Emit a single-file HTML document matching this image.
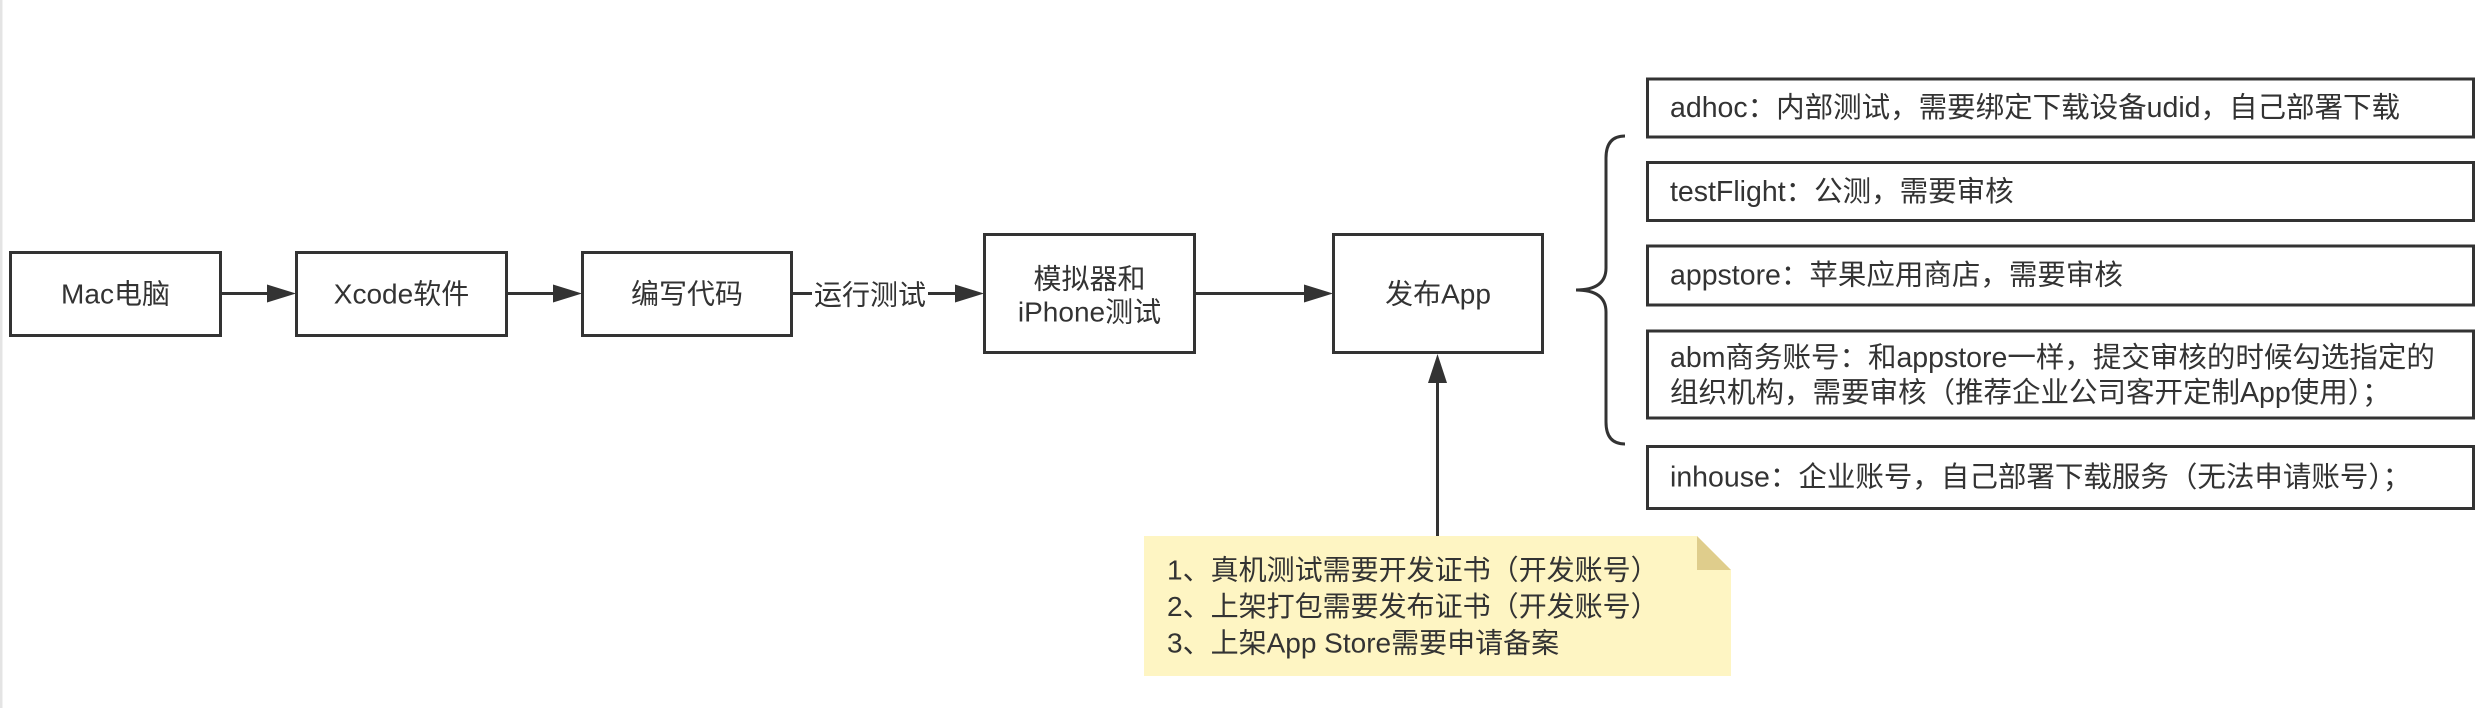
<!DOCTYPE html>
<html>
<head>
<meta charset="utf-8">
<style>
  html, body { margin:0; padding:0; background:#ffffff; }
  body { width:2492px; height:708px; overflow:hidden; position:relative; }
  svg { position:absolute; left:0; top:0; }
  text { font-family:"Liberation Sans","Noto Sans CJK SC",sans-serif; font-size:28px; fill:#333333; dominant-baseline:central; }
  text.r { font-size:28.5px; }
</style>
</head>
<body>
<svg width="2492" height="708" viewBox="0 0 2492 708" xmlns="http://www.w3.org/2000/svg">
  <!-- left gray strip -->
  <rect x="0" y="0" width="2.5" height="708" fill="#e4e4e4"/>

  <g fill="#ffffff" stroke="#333333" stroke-width="3">
    <!-- main flow boxes -->
    <rect x="10.5" y="252.5" width="210" height="83"/>
    <rect x="296.5" y="252.5" width="210" height="83"/>
    <rect x="582.5" y="252.5" width="209" height="83"/>
    <rect x="984.5" y="234.5" width="210" height="118"/>
    <rect x="1333.5" y="234.5" width="209" height="118"/>
    <!-- right list boxes -->
    <rect x="1647.5" y="79" width="826" height="58"/>
    <rect x="1647.5" y="162.5" width="826" height="58"/>
    <rect x="1647.5" y="246" width="826" height="59"/>
    <rect x="1647.5" y="331" width="826" height="87"/>
    <rect x="1647.5" y="446.5" width="826" height="62"/>
  </g>

  <!-- connectors -->
  <g stroke="#333333" stroke-width="3" fill="none">
    <line x1="222" y1="293.5" x2="270" y2="293.5"/>
    <line x1="508" y1="293.5" x2="556" y2="293.5"/>
    <line x1="793" y1="293.5" x2="812" y2="293.5"/>
    <line x1="928" y1="293.5" x2="958" y2="293.5"/>
    <line x1="1196" y1="293.5" x2="1307" y2="293.5"/>
    <line x1="1437.5" y1="536" x2="1437.5" y2="380"/>
    <!-- curly brace -->
    <path d="M1625,136 Q1606,136 1606,158 L1606,268 Q1606,290 1576,290 Q1606,290 1606,312 L1606,422 Q1606,444 1625,444"/>
  </g>
  <g fill="#333333">
    <polygon points="296,293.5 267,284.5 267,302.5"/>
    <polygon points="582,293.5 553,284.5 553,302.5"/>
    <polygon points="984,293.5 955,284.5 955,302.5"/>
    <polygon points="1333,293.5 1304,284.5 1304,302.5"/>
    <polygon points="1437.5,354 1428,383 1447,383"/>
  </g>

  <!-- note -->
  <polygon points="1144,536 1697,536 1731,570 1731,676 1144,676" fill="#fef5c3"/>
  <polygon points="1697,536 1731,570 1697,570" fill="#dfcd8c"/>

  <!-- main labels -->
  <text x="115.5" y="294" text-anchor="middle">Mac电脑</text>
  <text x="401.5" y="294" text-anchor="middle">Xcode软件</text>
  <text x="687" y="294" text-anchor="middle">编写代码</text>
  <text x="814" y="295">运行测试</text>
  <text x="1089.5" y="279" text-anchor="middle">模拟器和</text>
  <text x="1089.5" y="312" text-anchor="middle">iPhone测试</text>
  <text x="1438" y="294" text-anchor="middle">发布App</text>

  <!-- list labels -->
  <text class="r" x="1670" y="108">adhoc：内部测试，需要绑定下载设备udid，自己部署下载</text>
  <text class="r" x="1670" y="192">testFlight：公测，需要审核</text>
  <text class="r" x="1670" y="275.5">appstore：苹果应用商店，需要审核</text>
  <text class="r" x="1670" y="358">abm商务账号：和appstore一样，提交审核的时候勾选指定的</text>
  <text class="r" x="1670" y="393">组织机构，需要审核（推荐企业公司客开定制App使用）；</text>
  <text class="r" x="1670" y="477.5">inhouse：企业账号，自己部署下载服务（无法申请账号）；</text>

  <!-- note labels -->
  <text x="1167" y="570">1、真机测试需要开发证书（开发账号）</text>
  <text x="1167" y="606.5">2、上架打包需要发布证书（开发账号）</text>
  <text x="1167" y="643">3、上架App Store需要申请备案</text>
</svg>
</body>
</html>
